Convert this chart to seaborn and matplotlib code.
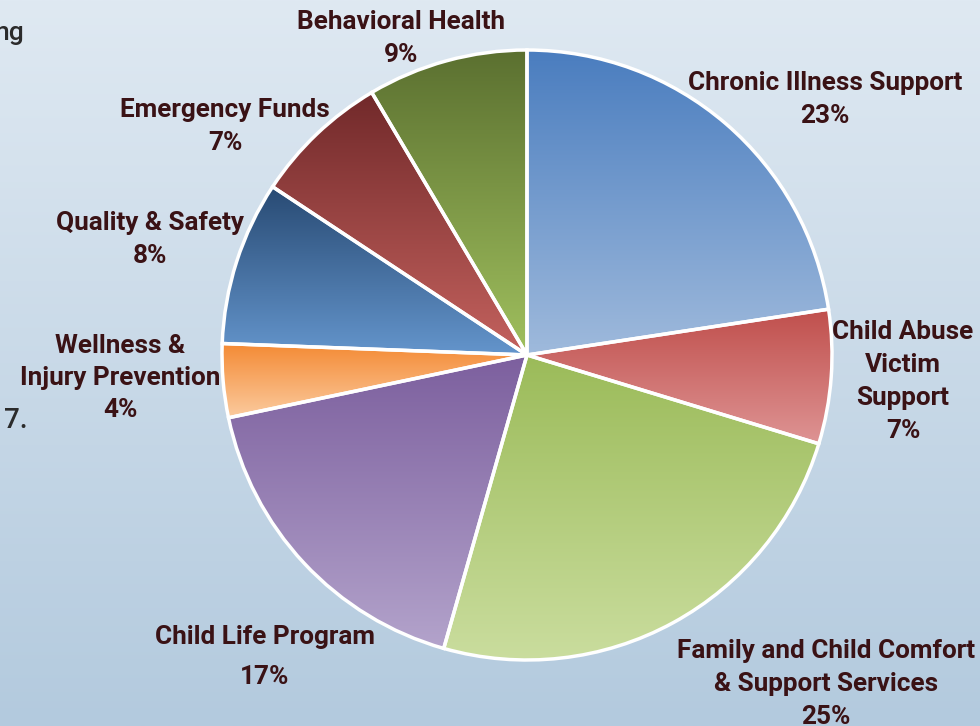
import numpy as np
import matplotlib
matplotlib.use("Agg")
import matplotlib.pyplot as plt
from matplotlib.colors import LinearSegmentedColormap
import seaborn as sns

# Data (clockwise from 12 o'clock); shares
categories = ["Chronic Illness Support", "Child Abuse Victim Support",
              "Family and Child Comfort & Support Services", "Child Life Program",
              "Wellness & Injury Prevention", "Quality & Safety",
              "Emergency Funds", "Behavioral Health"]
shares = [22.6, 7.1, 24.7, 17.3, 3.9, 8.7, 7.2, 8.5]
pct_labels = ["23%", "7%", "25%", "17%", "4%", "8%", "7%", "9%"]
label_lines = [["Chronic Illness Support", "23%"],
               ["Child Abuse", "Victim", "Support", "7%"],
               ["Family and Child Comfort", "& Support Services", "25%"],
               ["Child Life Program", "17%"],
               ["Wellness &", "Injury Prevention", "4%"],
               ["Quality & Safety", "8%"],
               ["Emergency Funds", "7%"],
               ["Behavioral Health", "9%"]]

# gradient (top colour, bottom colour) per slice
grad_colors = [("#4a7dbf", "#9fbadc"), ("#c04f4c", "#de9494"),
               ("#9bbb59", "#cadd9e"), ("#7c5f9e", "#b3a3cb"),
               ("#f48a34", "#fbcb9f"), ("#284a73", "#6495cc"),
               ("#71292a", "#c4625e"), ("#5b7030", "#a0c05e")]

# label anchor positions in pixels (x, y from top) and line spacing
label_pos = [(825, 83, 33), (903, 332, 33), (826, 651, 33), (265, 637, 40),
             (120, 346, 32), (150, 223, 33), (225, 110, 33), (401, 22, 33)]

W, H = 980, 726
CX, CY, R = 527, 355, 305
TXT = "#3a1215"

sns.set_theme(style="white")
plt.rcParams["font.family"] = ["Roboto", "DejaVu Sans"]

fig = plt.figure(figsize=(9.8, 7.26), dpi=100)
ax = fig.add_axes([0, 0, 1, 1])

# background gradient
bg = LinearSegmentedColormap.from_list("bg", ["#b3cade", "#dfe9f2"])
ax.imshow(np.linspace(0, 1, 256).reshape(-1, 1), extent=[0, W, 0, H],
          origin="lower", cmap=bg, aspect="auto", zorder=0)

wedges, _ = ax.pie(shares, startangle=90, counterclock=False,
                   center=(CX, H - CY), radius=R, frame=True,
                   wedgeprops=dict(facecolor="none", edgecolor="white",
                                   linewidth=2.5, zorder=3))

grad = np.linspace(0, 1, 256).reshape(-1, 1)
for w, (top, bot) in zip(wedges, grad_colors):
    ext = w.get_path().get_extents()
    cmap = LinearSegmentedColormap.from_list("g", [bot, top])
    im = ax.imshow(grad, extent=[ext.x0, ext.x1, ext.y0, ext.y1],
                   origin="lower", cmap=cmap, aspect="auto", zorder=2)
    im.set_clip_path(w)

for lines, (x, y, dy) in zip(label_lines, label_pos):
    for i, line in enumerate(lines):
        ax.text(x, H - (y + i * dy), line, ha="center", va="center",
                fontsize=18.8, fontweight="bold", color=TXT, zorder=5)

# cut-off text from neighbouring content on the left edge
ax.text(-6, H - 33, "ng", ha="left", va="center", fontsize=19,
        fontweight="medium", color="#2b2b2b")
ax.text(4, H - 420, "7.", ha="left", va="center", fontsize=20,
        fontweight="medium", color="#2b2b2b")

ax.set_xlim(0, W)
ax.set_ylim(0, H)
ax.set_aspect("auto")
ax.axis("off")

fig.savefig("out.png", dpi=100)
